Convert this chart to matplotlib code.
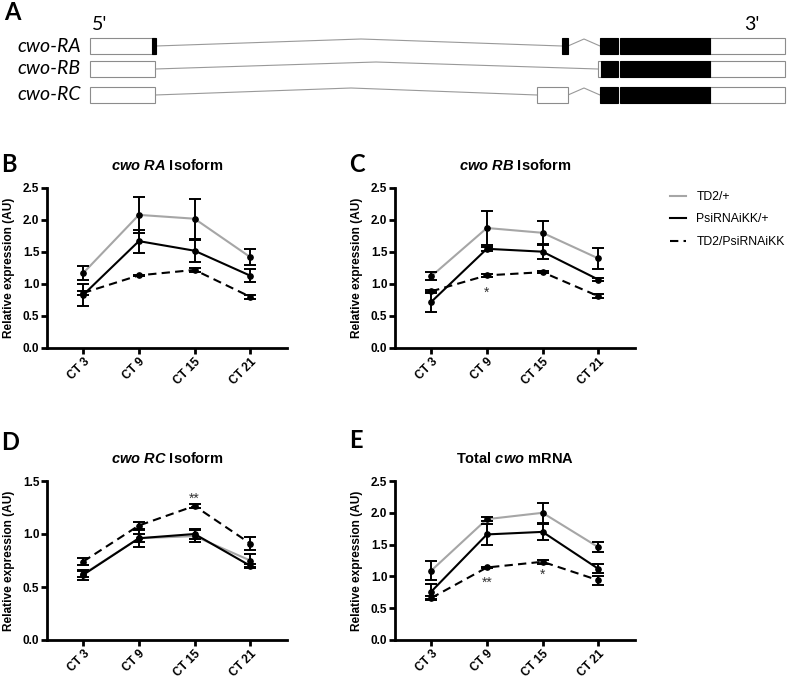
import matplotlib.pyplot as plt
from matplotlib.patches import Rectangle
from matplotlib.ticker import FormatStrFormatter

plt.rcParams['font.family'] = ['Liberation Sans', 'DejaVu Sans']
plt.rcParams['mathtext.fontset'] = 'custom'
plt.rcParams['mathtext.it'] = 'Liberation Sans:italic:bold'
plt.rcParams['mathtext.rm'] = 'Liberation Sans:bold'

# time points
timepoints = ['CT 3', 'CT 9', 'CT 15', 'CT 21']
genotypes = ['TD2/+', 'PsiRNAiKK/+', 'TD2/PsiRNAiKK']

# panel B - cwo RA
ra_mean = {'TD2/+': [1.17, 2.08, 2.02, 1.42],
           'PsiRNAiKK/+': [0.83, 1.67, 1.52, 1.13],
           'TD2/PsiRNAiKK': [0.86, 1.135, 1.22, 0.80]}
ra_sem = {'TD2/+': [0.11, 0.28, 0.31, 0.13],
          'PsiRNAiKK/+': [0.17, 0.18, 0.17, 0.10],
          'TD2/PsiRNAiKK': [0.03, 0.01, 0.03, 0.03]}

# panel C - cwo RB
rb_mean = {'TD2/+': [1.12, 1.875, 1.80, 1.40],
           'PsiRNAiKK/+': [0.72, 1.55, 1.505, 1.07],
           'TD2/PsiRNAiKK': [0.885, 1.135, 1.185, 0.81]}
rb_sem = {'TD2/+': [0.06, 0.26, 0.19, 0.16],
          'PsiRNAiKK/+': [0.15, 0.03, 0.12, 0.03],
          'TD2/PsiRNAiKK': [0.02, 0.02, 0.02, 0.03]}

# panel D - cwo RC
rc_mean = {'TD2/+': [0.62, 0.96, 0.98, 0.75],
           'PsiRNAiKK/+': [0.615, 0.96, 1.0, 0.70],
           'TD2/PsiRNAiKK': [0.74, 1.08, 1.265, 0.91]}
rc_sem = {'TD2/+': [0.03, 0.04, 0.06, 0.06],
          'PsiRNAiKK/+': [0.05, 0.08, 0.05, 0.02],
          'TD2/PsiRNAiKK': [0.03, 0.03, 0.02, 0.06]}

# panel E - total cwo
tot_mean = {'TD2/+': [1.09, 1.90, 2.00, 1.46],
            'PsiRNAiKK/+': [0.76, 1.66, 1.70, 1.12],
            'TD2/PsiRNAiKK': [0.66, 1.14, 1.23, 0.94]}
tot_sem = {'TD2/+': [0.15, 0.03, 0.16, 0.08],
           'PsiRNAiKK/+': [0.12, 0.17, 0.13, 0.07],
           'TD2/PsiRNAiKK': [0.03, 0.01, 0.03, 0.07]}

# significance marks (time index, height, text)
rb_stars = [(1, 0.86, '*')]
rc_stars = [(2, 1.33, '**')]
tot_stars = [(1, 0.90, '**'), (2, 1.02, '*')]

# gene models for panel A (diagram units = pixels across the figure)
gene_names = ['cwo-RA', 'cwo-RB', 'cwo-RC']
gene_rows = [46, 69, 95]
# (start, end, filled)
gene_exons = [
    [(90, 155, False), (152, 156, True), (562, 568, True), (600, 618, True),
     (620, 710, True), (710, 785, False)],
    [(90, 155, False), (598, 601, False), (601, 618, True),
     (620, 710, True), (710, 785, False)],
    [(90, 155, False), (537, 568, False), (600, 618, True),
     (620, 710, True), (710, 785, False)],
]
# (start, peak, end)
gene_introns = [
    [(156, 361, 562), (568, 584, 600)],
    [(155, 376, 598)],
    [(155, 351, 537), (568, 584, 600)],
]

styles = {'TD2/+': dict(color='#a6a6a6', ls='-'),
          'PsiRNAiKK/+': dict(color='black', ls='-'),
          'TD2/PsiRNAiKK': dict(color='black', ls=(0, (4, 2.5)))}

W, H = 793, 678
fig = plt.figure(figsize=(W / 100, H / 100), dpi=100)

# ---- panel A ----
axa = fig.add_axes([0, 0, 1, 1])
axa.set_xlim(0, W)
axa.set_ylim(H, 0)
axa.axis('off')
box_h = 16
for name, yc, exons, introns in zip(gene_names, gene_rows, gene_exons, gene_introns):
    for s, pk, e in introns:
        axa.plot([s, pk, e], [yc, yc - 7, yc], color='#999999', lw=0.8)
    for s, e, filled in exons:
        axa.add_patch(Rectangle((s, yc - box_h / 2), e - s, box_h,
                                facecolor='black' if filled else 'white',
                                edgecolor='black' if filled else '#8c8c8c',
                                lw=0.8, zorder=3 if filled else 2))
    axa.text(81, yc, name, ha='right', va='center', fontsize=14,
             style='italic', family='Lato')
axa.text(92, 24, "5'", ha='left', va='center', fontsize=14, family='Lato')
axa.text(752, 24, "3'", ha='center', va='center', fontsize=14, family='Lato')
fig.text(4 / W, 1 - 13 / H, 'A', fontsize=17, fontweight='bold', family='Lato',
         ha='left', va='center')


def panel(rect, means, sems, title, ymax, stars):
    ax = fig.add_axes(rect)
    x = list(range(len(timepoints)))
    for g in genotypes:
        st = styles[g]
        ax.plot(x, means[g], color=st['color'], ls=st['ls'], lw=1.5,
                label=g, zorder=2)
        ax.errorbar(x, means[g], yerr=sems[g], fmt='o', ms=3.8, color='black',
                    ecolor='black', elinewidth=1.4, capsize=4, capthick=1.4,
                    zorder=3)
    for i, v, t in stars:
        ax.text(i, v, t, ha='center', va='center', fontsize=10, color='#333333')
    ax.set_xlim(-0.65, 3.66)
    ax.set_ylim(0, ymax)
    ax.set_yticks([k * 0.5 for k in range(int(ymax / 0.5) + 1)])
    ax.yaxis.set_major_formatter(FormatStrFormatter('%.1f'))
    ax.set_xticks(x)
    ax.set_xticklabels(timepoints, rotation=45, ha='right', rotation_mode='anchor')
    for lab in ax.get_xticklabels() + ax.get_yticklabels():
        lab.set_fontweight('bold')
        lab.set_fontsize(8.5)
    ax.spines['top'].set_visible(False)
    ax.spines['right'].set_visible(False)
    ax.spines['left'].set_linewidth(2)
    ax.spines['bottom'].set_linewidth(2)
    ax.tick_params(width=2, length=4, pad=1.5)
    ax.set_ylabel('Relative expression (AU)', fontsize=8.6, fontweight='bold')
    ax.yaxis.set_label_coords(-0.135, 0.5)
    ax.set_title(title, fontsize=10.5, fontweight='bold', pad=13)
    return ax


pw, ph = 240 / W, 160 / H
axb = panel([47 / W, 1 - 348 / H, pw, ph], ra_mean, ra_sem,
            r'$\mathit{cwo\ RA}$ Isoform', 2.5, [])
axc = panel([395 / W, 1 - 348 / H, pw, ph], rb_mean, rb_sem,
            r'$\mathit{cwo\ RB}$ Isoform', 2.5, rb_stars)
axd = panel([47 / W, 1 - 640 / H, pw, 159 / H], rc_mean, rc_sem,
            r'$\mathit{cwo\ RC}$ Isoform', 1.5, rc_stars)
axe = panel([395 / W, 1 - 640 / H, pw, 159 / H], tot_mean, tot_sem,
            r'Total $\mathit{cwo}$ mRNA', 2.5, tot_stars)

for letter, px, py in [('B', 1, 164), ('C', 349, 164), ('D', 1, 443), ('E', 349, 440)]:
    fig.text(px / W, 1 - py / H, letter, fontsize=17, fontweight='bold',
             family='Lato', ha='left', va='center')

handles, labels = axc.get_legend_handles_labels()
fig.legend(handles, labels, loc='upper left', bbox_to_anchor=(670 / W, 1 - 191 / H),
           frameon=False, fontsize=8.8, handlelength=1.3, handletextpad=0.85,
           labelspacing=0.85, borderpad=0, borderaxespad=0)

fig.savefig('out.png', dpi=100)
